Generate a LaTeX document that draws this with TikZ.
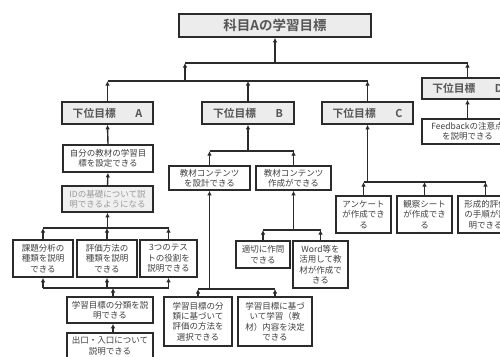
\documentclass[tikz,border=0pt]{standalone}
\usepackage{fontspec}
\usetikzlibrary{arrows.meta}
\newfontfamily\cjk{Noto Sans CJK JP}[BoldFont={Noto Sans CJK JP Bold}]
\definecolor{boxline}{HTML}{2B2B2B}
\definecolor{lvlfill}{HTML}{ECECEC}
\definecolor{lvltext}{HTML}{555555}
\definecolor{subtext}{HTML}{404040}
\definecolor{idtext}{HTML}{9A9A9A}
\definecolor{idfill}{HTML}{F0F0F0}
\tikzset{
  bx/.style={draw=boxline, line width=1.6pt, fill=white, text=subtext, inner sep=0pt,
    align=center, font=\cjk\fontsize{8.5}{10.4}\selectfont},
  lvl/.style={bx, fill=lvlfill, text=lvltext, font=\cjk\bfseries\fontsize{10.8}{12}\selectfont,
    minimum width=91pt, minimum height=22pt},
  idbox/.style={bx, fill=idfill, text=idtext},
  ln/.style={draw=boxline, line width=1.4pt},
  arr/.style={ln, -{Latex[length=4.5pt,width=4.5pt]}},
}
\newcommand{\bxat}[6]{\node[#1, minimum width=#4pt, minimum height=#5pt] (#2) at #3 {#6};}
\begin{document}
\begin{tikzpicture}[x=1pt,y=-1pt]
\useasboundingbox (0,0) rectangle (500,356);
\clip (0,0) rectangle (500,356);
\fill[white] (0,0) rectangle (500,356);
% top
\node[lvl, minimum width=192pt, minimum height=23pt, font=\cjk\bfseries\fontsize{13.5}{15}\selectfont] (top) at (275,25.5) {科目Aの学習目標};
% level 2
\node[lvl] (A) at (107.5,113) {下位目標\hspace{1.8em}A};
\node[lvl, minimum width=92pt] (B) at (248,113) {下位目標\hspace{1.8em}B};
\node[lvl] (C) at (367.5,113) {下位目標\hspace{1.8em}C};
\node[lvl, minimum height=21pt] (D) at (467.5,88.5) {下位目標\hspace{1.8em}D};
% D column
\bxat{bx}{fb}{(467.5,131.5)}{91}{25}{Feedbackの注意点\\を説明できる}
% A column
\bxat{bx}{jibun}{(108,158.5)}{90}{27}{自分の教材の学習目\\標を設定できる}
\bxat{idbox}{id}{(107.5,199)}{91}{26}{IDの基礎について説\\明できるようになる}
\bxat{bx}{kadai}{(43,258.5)}{60}{37}{課題分析の\\種類を説明\\できる}
\bxat{bx}{hyouka}{(107,258.5)}{60}{37}{評価方法の\\種類を説明\\できる}
\bxat{bx}{test}{(168.5,258.5)}{57}{37}{3つのテス\\トの役割を\\説明できる}
\bxat{bx}{bunrui}{(110,310)}{86}{26}{学習目標の分類を説\\明できる}
\bxat{bx}{deguchi}{(110,346)}{86}{26}{出口・入口について\\説明できる}
% B column
\bxat{bx}{sekkei}{(209.5,178)}{81}{24}{教材コンテンツ\\を設計できる}
\bxat{bx}{sakusei}{(293.5,178)}{75}{24}{教材コンテンツ\\作成ができる}
\bxat{bx}{sentaku}{(198,321.5)}{68}{49}{学習目標の分\\類に基づいて\\評価の方法を\\選択できる}
\bxat{bx}{naiyou}{(275,321.5)}{74}{49}{学習目標に基づ\\いて学習（教\\材）内容を決定\\できる}
\bxat{bx}{sakumon}{(263,254.5)}{54}{27}{適切に作問\\できる}
\bxat{bx}{word}{(320.5,264.5)}{55}{47}{Word等を\\活用して教\\材が作成で\\きる}
% C column
\bxat{bx}{enq}{(363.5,214.5)}{55}{37}{アンケート\\が作成でき\\る}
\bxat{bx}{kansatsu}{(424.5,214.5)}{55}{37}{観察シート\\が作成でき\\る}
\bxat{bx}{keisei}{(485.5,214.5)}{55}{37}{形成的評価\\の手順が説\\明できる}
% bars
\coordinate (b1) at (0,63);
\coordinate (b2) at (0,81);
\coordinate (b2s) at (185,81);
\draw[ln] (b2s |- b1) -- (D.north |- b1);
\draw[arr] (top.south |- b1) -- (top.south);
\draw[arr] (b2s) -- (b2s |- b1);
\draw[arr] (D.north) -- (D.north |- b1);
\draw[ln] (A.north |- b2) -- (C.north |- b2);
\foreach \n in {A,B,C} \draw[arr] (\n.north) -- (\n.north |- b2);
% D
\draw[arr] (fb.north) -- (D.south);
% A column
\draw[arr] (jibun.north) -- (A.south);
\draw[arr] (id.north) -- (jibun.south);
\coordinate (b3) at (0,228);
\draw[ln] (kadai.north |- b3) -- (test.north |- b3);
\foreach \n in {kadai,hyouka,test} \draw[arr] (\n.north) -- (\n.north |- b3);
\draw[arr] (id.south |- b3) -- (id.south);
\coordinate (b4) at (0,288);
\coordinate (b4s) at (113,310);
\draw[ln] (kadai.south |- b4) -- (test.south |- b4);
\foreach \n in {kadai,hyouka,test} \draw[arr] (\n.south |- b4) -- (\n.south);
\draw[arr] (bunrui.north -| b4s) -- (b4s |- b4);
\draw[arr] (deguchi.north -| b4s) -- (bunrui.south -| b4s);
% B column
\coordinate (b5) at (0,151);
\draw[ln] (sekkei.north |- b5) -- (sakusei.north |- b5);
\draw[arr] (B.south |- b5) -- (B.south);
\foreach \n in {sekkei,sakusei} \draw[arr] (\n.north) -- (\n.north |- b5);
\coordinate (b6) at (0,289);
\draw[ln] (sentaku.north |- b6) -- (naiyou.north |- b6);
\draw[ln] (sekkei.south |- b6) -- (sentaku.north |- b6);
\draw[arr] (sekkei.south |- b6) -- (sekkei.south);
\foreach \n in {sentaku,naiyou} \draw[arr] (\n.north) -- (\n.north |- b6);
\coordinate (b7) at (0,230);
\draw[ln] (sakumon.north |- b7) -- (word.north |- b7);
\draw[arr] (sakusei.south |- b7) -- (sakusei.south);
\foreach \n in {sakumon,word} \draw[arr] (\n.north) -- (\n.north |- b7);
% C column
\coordinate (b8) at (0,182);
\draw[ln] (enq.north |- b8) -- (keisei.north |- b8);
\draw[arr] (C.south |- b8) -- (C.south);
\foreach \n in {enq,kansatsu,keisei} \draw[arr] (\n.north) -- (\n.north |- b8);
\end{tikzpicture}
\end{document}
